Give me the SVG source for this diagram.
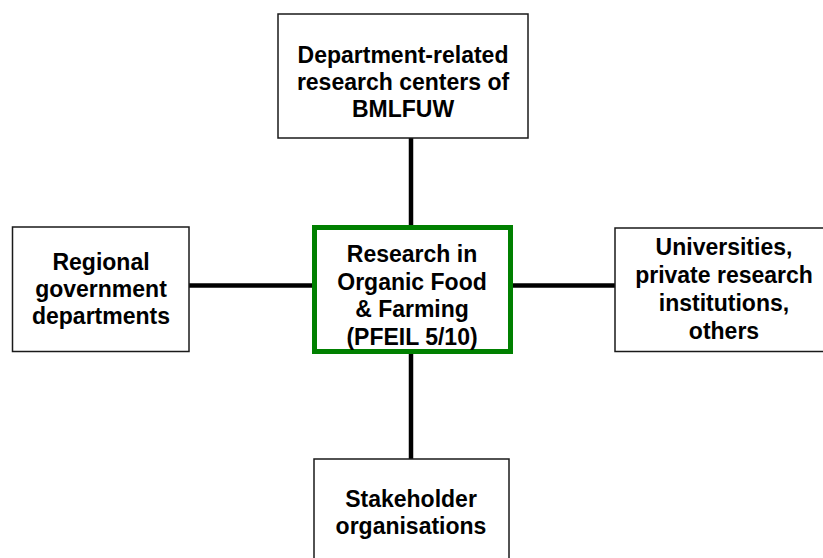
<svg xmlns="http://www.w3.org/2000/svg" width="823" height="558" viewBox="0 0 823 558">
<style>
.box{fill:#fff;stroke:#1a1a1a;stroke-width:1.5}
.main{fill:#fff;stroke:#008000;stroke-width:5}
.conn{stroke:#000;stroke-width:4.5;fill:none}
text{font-family:"Liberation Sans",Arial,sans-serif;font-weight:bold;font-size:23px;fill:#000;text-anchor:middle}
</style>
<rect width="823" height="558" fill="#fff"/>
<g id="connectors">
<line class="conn" x1="411" y1="138" x2="411" y2="227"/>
<line class="conn" x1="411" y1="352" x2="411" y2="459"/>
<line class="conn" x1="189" y1="285.5" x2="314" y2="285.5"/>
<line class="conn" x1="511" y1="285.5" x2="615" y2="285.5"/>
</g>
<g id="top">
<rect class="box" x="278" y="14" width="250" height="124"/>
<text x="403" y="63">Department-related</text>
<text x="403" y="90">research centers of</text>
<text x="403" y="117">BMLFUW</text>
</g>
<g id="left">
<rect class="box" x="12.5" y="227" width="176.5" height="124.5"/>
<text x="101" y="270">Regional</text>
<text x="101" y="297">government</text>
<text x="101" y="324">departments</text>
</g>
<g id="right">
<rect class="box" x="615" y="228" width="220" height="123.5"/>
<text x="724" y="255">Universities,</text>
<text x="724" y="283">private research</text>
<text x="724" y="311">institutions,</text>
<text x="724" y="339">others</text>
</g>
<g id="center">
<rect class="main" x="314.5" y="227.5" width="196" height="124"/>
<text x="412" y="262">Research in</text>
<text x="412" y="290">Organic Food</text>
<text x="412" y="317">&amp; Farming</text>
<text x="412" y="345">(PFEIL 5/10)</text>
</g>
<g id="bottom">
<rect class="box" x="314" y="459" width="195" height="110"/>
<text x="411" y="507">Stakeholder</text>
<text x="411" y="534">organisations</text>
</g>
</svg>
